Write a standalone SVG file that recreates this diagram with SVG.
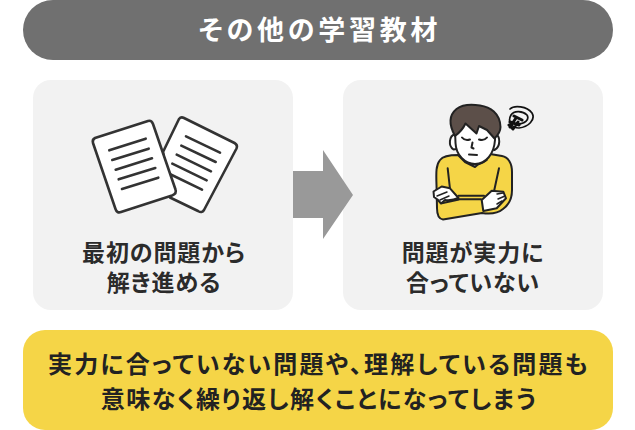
<svg xmlns="http://www.w3.org/2000/svg" width="635" height="430" viewBox="0 0 635 430">
<style>
text{font-family:"Noto Sans CJK JP","Noto Sans",sans-serif;font-weight:700;text-anchor:middle;font-feature-settings:"palt"}
.lab{font-size:23px;fill:#2b2b2b;letter-spacing:.9px}
.call{font-size:24px;fill:#222;letter-spacing:2.200px}
.call2{letter-spacing:1.500px}
.card{fill:#f2f2f2}
.ink{stroke:#333;stroke-linejoin:round;stroke-linecap:round;fill:none}
.man{stroke:#222;stroke-linejoin:round;stroke-linecap:round;fill:none;stroke-width:2}
</style>
<rect width="635" height="430" fill="#fff"/>
<g id="header"><rect x="23" y="0" width="590" height="60" rx="30" fill="#707070"/><text x="320" y="40" font-size="27" fill="#fff" font-weight="500" letter-spacing="3.800">その他の学習教材</text></g>
<g id="card-left"><rect class="card" x="33" y="80" width="260" height="230" rx="18"/>
<g class="ink" stroke-width="2.600">
<path d="M179 119Q181 116.500 184 118L234.500 143Q238 145 236.500 148.500L204 210Q202 213.500 198 211L170 197.500L163 152Z" fill="#fff"/>
<path d="M186 136.300L220 152.700M181.300 145.700L215.700 162M176.700 154.700L211 171.300M172.300 163.700L206.700 180.300M167.700 173L202 189.700"/>
<path d="M95 138Q92 139.500 93 143L115.500 209Q117 213.500 121 212L172 195.500Q177 193.500 175.500 189.500L153 124Q151.500 120 148 121Z" fill="#fff"/>
<path d="M109.300 150.300L145.700 138.700M112.300 160L148.700 148.700M115.700 169.700L152 158.300M118.700 179.300L155.300 168M122 189L158.300 177.700"/>
</g>
<text class="lab" x="164" y="261">最初の問題から</text><text class="lab" x="164" y="291">解き進める</text></g>
<g id="card-right"><rect class="card" x="343" y="80" width="260" height="230" rx="18"/>
<g class="man">
<path d="M458 155C450 155 443 156 440 160C436 165 436 172 436.500 185L437 208C437 216 439 219 443 219.500L482 213C488 214 497 214 503 209C510 204 512 198 512 190L512 172C512 163 508 157 502 156L490 154L475 167L465 162Z" fill="#f5d547"/>
<path d="M447.700 168.300L450 189M499 168.300L494.300 190M458.500 195.700H484M459 199.300H481M459 199.500L441.700 203.300"/>
<path d="M433.500 191.500L441.700 186.500L450 188.300L458.500 198C454 200 449 200.500 445 200L441 203.500L437.500 199.500L434 197Z" fill="#fff"/>
<path d="M437 196L447 192M440 200L449 196" stroke-width="1.500"/>
<path d="M481.700 200L491.700 190.700L503.300 191.700L506 198.300L496.700 208.300L483.300 211Z" fill="#fff"/>
<path d="M497 194L503 193M498 199L505 196M497 204L502 201" stroke-width="1.500"/>
<path d="M465 160Q475 169 486.700 160L480 158H470Z" fill="#fff"/>
<path d="M455 134C449 136 448 146 453.500 149.500L457 149M495 134C501 136 500.500 147 494.500 150L492 149" fill="#fff"/>
<path d="M455 130L455.500 143C456 155 465 164 475 164C486 164 494 154 495 140L495 128L478 112L460 118Z" fill="#fff"/>
<path d="M455 136C449 125 448 116 456.500 109C463 104 471 104 480 105.500C490 107 500 113 500.500 127C500.500 131 498 135 494.500 138.500L487 130L479 126L476.500 133.500L465.500 123.500C463 129 459 133 455 136Z" fill="#5c4f49"/>
<path d="M462 137.500C464 140 467 140.500 470 139.500M479 139.500C482 140.500 485 140 487 137.500M472.500 142.500L471.500 147.500L473.500 148.500M469 154.500L477 155"/>
</g>
<g fill="none" stroke="#111" stroke-linecap="round" stroke-linejoin="round"><path stroke-width="1.700" d="M510 109C514 105 527 106 532 113C536 120 528 127 519 128C512 128 507 122 511 115C514 110 523 111 527 115C530 120 524 124 518 124"/><path stroke-width="3" d="M514 116L522 120M510 122L519 125M510 127L516 118M509 125L513 129L518 122"/></g>
<text class="lab" x="473" y="261">問題が実力に</text><text class="lab" x="473" y="291">合っていない</text></g>
<g id="arrow"><path d="M293 171H323V150L353 195L323 239V218H293Z" fill="#999"/></g>
<g id="callout"><rect x="23" y="330" width="590" height="100" rx="22" fill="#f5d547"/>
<text class="call" x="319" y="373">実力に合っていない問題や、理解している問題も</text><text class="call call2" x="319" y="408">意味なく繰り返し解くことになってしまう</text></g>
</svg>
